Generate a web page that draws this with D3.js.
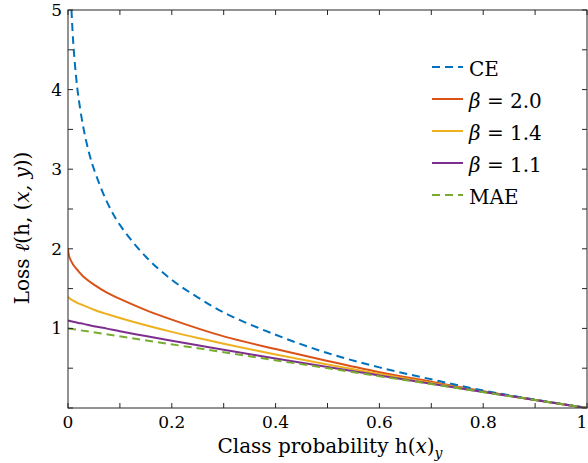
<!DOCTYPE html>
<html>
<head>
<meta charset="utf-8">
<script src="https://cdn.jsdelivr.net/npm/d3@7"></script>
<style>
  body { margin: 0; background: #fff; }
</style>
</head>
<body>
<div id="chart"></div>
<script>
// values
const probs = [0, 0.002, 0.005, 0.01, 0.02, 0.03, 0.05, 0.075, 0.1, 0.15, 0.2, 0.25, 0.3, 0.4, 0.5, 0.6, 0.7, 0.8, 0.9, 1];
const ceProbs = [0.0067, 0.01, 0.015, 0.02, 0.03, 0.04, 0.05, 0.075, 0.1, 0.15, 0.2, 0.25, 0.3, 0.4, 0.5, 0.6, 0.7, 0.8, 0.9, 1];
const ceLoss = [5.0, 4.6, 4.2, 3.91, 3.51, 3.22, 3.0, 2.59, 2.3, 1.9, 1.61, 1.39, 1.2, 0.92, 0.69, 0.51, 0.36, 0.22, 0.105, 0];
const beta20 = [2.0, 1.91, 1.86, 1.8, 1.72, 1.65, 1.55, 1.45, 1.37, 1.23, 1.11, 1.0, 0.9, 0.74, 0.59, 0.45, 0.33, 0.21, 0.10, 0];
const beta14 = [1.4, 1.385, 1.368, 1.348, 1.314, 1.29, 1.235, 1.18, 1.13, 1.039, 0.956, 0.88, 0.808, 0.672, 0.546, 0.428, 0.315, 0.206, 0.101, 0];
const beta11 = [1.1, 1.096, 1.091, 1.083, 1.069, 1.057, 1.028, 0.997, 0.964, 0.904, 0.845, 0.788, 0.732, 0.622, 0.514, 0.409, 0.305, 0.202, 0.100, 0];
const maeProbs = [0, 1];
const maeLoss = [1, 0];
const xTickLabels = ["0", "0.2", "0.4", "0.6", "0.8", "1"];
const yTickLabels = ["1", "2", "3", "4", "5"];

const width = 588, height = 463;
const plotLeft = 68, plotRight = 587, plotTop = 10, plotBottom = 408;
const font = "'DejaVu Serif', 'Liberation Serif', serif";

const svg = d3.select("#chart").append("svg")
  .attr("width", width)
  .attr("height", height)
  .attr("font-family", font);

const x = d3.scaleLinear().domain([0, 1]).range([plotLeft, plotRight]);
const y = d3.scaleLinear().domain([0, 5]).range([plotBottom, plotTop]);

svg.append("defs").append("clipPath").attr("id", "plot")
  .append("rect")
  .attr("x", plotLeft).attr("y", plotTop)
  .attr("width", plotRight - plotLeft).attr("height", plotBottom - plotTop);

const series = [
  { name: "CE", xs: ceProbs, ys: ceLoss, color: "#0072bd", dash: "8,5" },
  { name: "b2.0", xs: probs, ys: beta20, color: "#d95319", dash: null },
  { name: "b1.4", xs: probs, ys: beta14, color: "#edb120", dash: null },
  { name: "b1.1", xs: probs, ys: beta11, color: "#7e2f8e", dash: null },
  { name: "MAE", xs: maeProbs, ys: maeLoss, color: "#77ac30", dash: "8,5" }
];

const line = d3.line()
  .x((d) => x(d[0]))
  .y((d) => y(d[1]))
  .curve(d3.curveCatmullRom.alpha(0.5));

const lines = svg.append("g").attr("clip-path", "url(#plot)");
// draw back to front so the lower curves sit on top near x=1
[1, 2, 0, 3, 4].forEach((i) => {
  const s = series[i];
  lines.append("path")
    .datum(s.xs.map((v, j) => [v, s.ys[j]]))
    .attr("d", line)
    .attr("fill", "none")
    .attr("stroke", s.color)
    .attr("stroke-width", 2)
    .attr("stroke-dasharray", s.dash);
});

// box and inward ticks
const axisColor = "#262626";
const tickLen = 5;
const frame = svg.append("g").attr("stroke", axisColor).attr("stroke-width", 1);
frame.append("rect")
  .attr("x", plotLeft).attr("y", plotTop)
  .attr("width", plotRight - plotLeft).attr("height", plotBottom - plotTop)
  .attr("fill", "none");

const xTicks = d3.range(0, 11).map((i) => i / 10);
xTicks.forEach((t) => {
  frame.append("line").attr("x1", x(t)).attr("x2", x(t)).attr("y1", plotBottom).attr("y2", plotBottom - tickLen);
  frame.append("line").attr("x1", x(t)).attr("x2", x(t)).attr("y1", plotTop).attr("y2", plotTop + tickLen);
});
const yTicks = d3.range(0, 11).map((i) => i / 2);
yTicks.forEach((t) => {
  frame.append("line").attr("x1", plotLeft).attr("x2", plotLeft + tickLen).attr("y1", y(t)).attr("y2", y(t));
  frame.append("line").attr("x1", plotRight).attr("x2", plotRight - tickLen).attr("y1", y(t)).attr("y2", y(t));
});

svg.append("g").selectAll("text")
  .data(xTickLabels)
  .enter()
  .append("text")
  .attr("x", (d) => Math.min(x(+d), width - 6))
  .attr("y", plotBottom + 20)
  .attr("text-anchor", "middle")
  .attr("font-size", 17)
  .text((d) => d);

svg.append("g").selectAll("text")
  .data(yTickLabels)
  .enter()
  .append("text")
  .attr("x", plotLeft - 6)
  .attr("y", (d) => y(+d))
  .attr("dy", "0.35em")
  .attr("text-anchor", "end")
  .attr("font-size", 17)
  .text((d) => d);

// axis titles
const xt = svg.append("text")
  .attr("x", 330)
  .attr("y", 453)
  .attr("text-anchor", "middle")
  .attr("font-size", 20);
xt.append("tspan").text("Class probability h(");
xt.append("tspan").attr("font-style", "italic").text("x");
xt.append("tspan").text(")");
xt.append("tspan").attr("font-style", "italic").attr("font-size", 14).attr("dy", 5).text("y");

const yt = svg.append("text")
  .attr("transform", "translate(29,228) rotate(-90)")
  .attr("text-anchor", "middle")
  .attr("font-size", 20);
yt.append("tspan").text("Loss ");
yt.append("tspan").attr("font-style", "italic").text("ℓ");
yt.append("tspan").text("(h, (");
yt.append("tspan").attr("font-style", "italic").text("x, y");
yt.append("tspan").text("))");

// legend
const legendNames = [["CE"], ["β", " = 2.0"], ["β", " = 1.4"], ["β", " = 1.1"], ["MAE"]];
const legend = svg.append("g");
series.forEach((s, i) => {
  const ly = 67 + i * 32;
  legend.append("line")
    .attr("x1", 432).attr("x2", 463)
    .attr("y1", ly).attr("y2", ly)
    .attr("stroke", s.color)
    .attr("stroke-width", 2)
    .attr("stroke-dasharray", s.dash);
  const t = legend.append("text")
    .attr("x", 469)
    .attr("y", ly + 3)
    .attr("dy", "0.3em")
    .attr("font-size", 20);
  const parts = legendNames[i];
  if (parts.length === 1) {
    t.text(parts[0]);
  } else {
    t.append("tspan").attr("font-style", "italic").text(parts[0]);
    t.append("tspan").text(parts[1]);
  }
});
</script>
</body>
</html>
